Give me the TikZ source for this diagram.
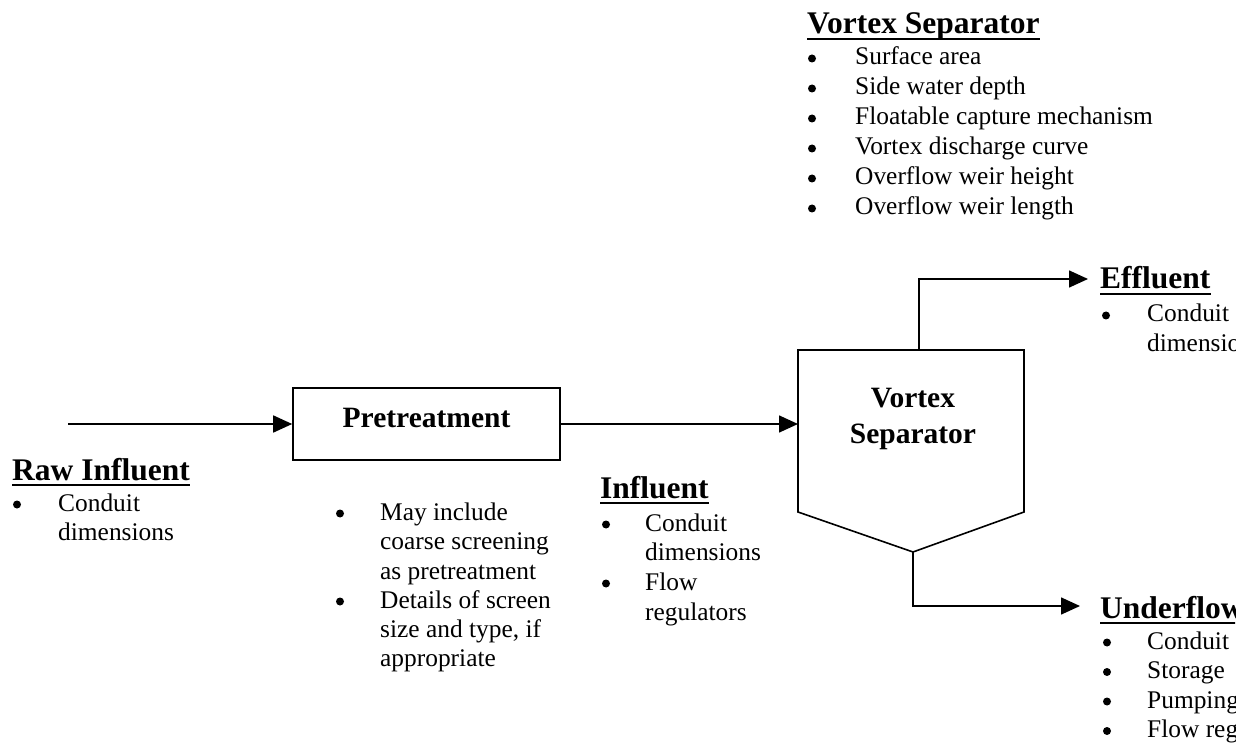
\documentclass[tikz,border=0pt]{standalone}
\usepackage{fontspec}
\setmainfont{Liberation Serif}
\usetikzlibrary{arrows.meta}
\begin{document}
\begin{tikzpicture}[x=1pt,y=-1pt,
  body/.style={inner sep=0pt, anchor=base west, font=\fontsize{25.4}{29}\selectfont},
  head/.style={inner sep=0pt, anchor=base west, font=\fontsize{31.5}{36}\selectfont\bfseries},
  boxtext/.style={inner sep=0pt, anchor=base, font=\fontsize{29.5}{36}\selectfont\bfseries},
  dot/.style={circle, fill=black, inner sep=0pt, minimum size=8pt, yshift=6.5pt},
  ul/.style={line width=2.6pt},
  flow/.style={line width=1.6pt, -{Triangle[length=19pt,width=17pt]}},
  box/.style={draw, line width=1.6pt}]
\useasboundingbox (0,0) rectangle (1251,751);
\clip (0,0) rectangle (1251,751);

% ---------- Vortex Separator list (top) ----------
\node[head] (hvs) at (807,34) {Vortex Separator};
\draw[ul] ([yshift=-5pt]hvs.base west) -- ([yshift=-5pt]hvs.base east);
\foreach \t [count=\i] in {Surface area, Side water depth, Floatable capture mechanism, Vortex discharge curve, Overflow weir height, Overflow weir length}{
  \node[dot] (vb\i) at (812,{65+(\i-1)*30}) {};
  \node[body] (vt\i) at (855,{65+(\i-1)*30}) {\t};
}

% ---------- Pretreatment ----------
\node[box, minimum width=267pt, minimum height=72pt, inner sep=0pt] (pre) at (426.5,424) {};
\node[boxtext] (pretxt) at (426.5,428) {Pretreatment};
\coordinate (rawstart) at (68,424);
\draw[flow] (rawstart) -- (pre.west);

% ---------- Vortex separator shape ----------
\coordinate (vtl) at (798,350);
\coordinate (vtr) at (1024,350);
\coordinate (vbr) at (1024,512);
\coordinate (vbot) at (913,552);
\coordinate (vbl) at (798,512);
\draw[box, line join=miter] (vtl) -- (vtr) -- (vbr) -- (vbot) -- (vbl) -- cycle;
\node[boxtext] (vsa) at (913,407) {Vortex};
\node[boxtext] (vsb) at (913,443) {Separator};
\coordinate (vin) at (798,424);
\draw[flow] (pre.east) -- (vin);

% ---------- Effluent ----------
\coordinate (vtop) at (919,350);
\coordinate (ecorner) at (919,279);
\coordinate (etip) at (1088,279);
\draw[flow] (vtop) -- (ecorner) -- (etip);

% ---------- Underflow ----------
\coordinate (ucorner) at (913,606);
\coordinate (utip) at (1080,606);
\draw[flow] (vbot) -- (ucorner) -- (utip);

\begin{scope}
\clip (1090,250) rectangle (1235,751);
\node[head] (heff) at (1100,289) {Effluent};
\draw[ul] ([yshift=-5pt]heff.base west) -- ([yshift=-5pt]heff.base east);
\node[dot] (eb1) at (1106,322) {};
\node[body] (et1) at (1147,322) {Conduit};
\node[body] (et2) at (1147,352) {dimensions};
\node[head] (hunder) at (1100,618) {Underflow};
\draw[ul] ([yshift=-5pt]hunder.base west) -- ([yshift=-5pt]hunder.base east);
\foreach \t [count=\i] in {Conduit, Storage, Pumping, Flow regulators}{
  \node[dot] (ub\i) at (1107,{649+(\i-1)*29.5}) {};
  \node[body] (ut\i) at (1147,{649+(\i-1)*29.5}) {\t};
}
\end{scope}

% ---------- Raw Influent ----------
\node[head] (hraw) at (12,480) {Raw Influent};
\draw[ul] ([yshift=-5pt]hraw.base west) -- ([yshift=-5pt]hraw.base east);
\node[dot] (rb1) at (17,511) {};
\node[body] (rt1) at (58,511) {Conduit};
\node[body] (rt2) at (58,540) {dimensions};

% ---------- Pretreatment notes ----------
\node[dot] (pb1) at (340,520) {};
\node[body] (pt1) at (380,520) {May include};
\node[body] (pt2) at (380,549.5) {coarse screening};
\node[body] (pt3) at (380,579) {as pretreatment};
\node[dot] (pb2) at (340,608) {};
\node[body] (pt4) at (380,608) {Details of screen};
\node[body] (pt5) at (380,637) {size and type, if};
\node[body] (pt6) at (380,666) {appropriate};

% ---------- Influent ----------
\node[head] (hinf) at (600,498) {Influent};
\draw[ul] ([yshift=-5pt]hinf.base west) -- ([yshift=-5pt]hinf.base east);
\node[dot] (ib1) at (606,531) {};
\node[body] (it1) at (645,531) {Conduit};
\node[body] (it2) at (645,560) {dimensions};
\node[dot] (ib2) at (606,590) {};
\node[body] (it3) at (645,590) {Flow};
\node[body] (it4) at (645,620) {regulators};
\end{tikzpicture}
\end{document}
